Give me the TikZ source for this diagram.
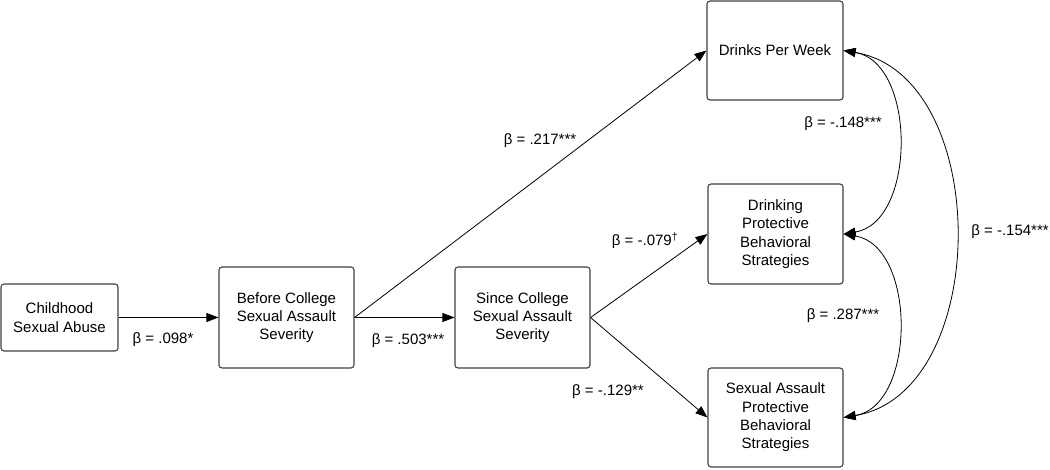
\documentclass[tikz,border=0pt]{standalone}
\usepackage{fontspec}
\setmainfont{Liberation Sans}
\usetikzlibrary{arrows.meta}
\begin{document}
\begin{tikzpicture}[x=1pt,y=-1pt,
  box/.style={draw=black!75, line width=1.1pt, rounded corners=3pt, align=center, inner sep=0pt,
    font=\fontsize{15}{18.3}\selectfont},
  lbl/.style={inner sep=0pt, font=\fontsize{15}{18}\selectfont},
  arr/.style={line width=0.8pt, -{Triangle[length=12pt,width=9pt]}},
  darr/.style={line width=0.8pt, {Triangle[length=12pt,width=9pt]}-{Triangle[length=12pt,width=9pt]}}]
\useasboundingbox (0,0) rectangle (1050,469);
\node[box, minimum width=117pt, minimum height=67pt] (csa) at (59.5,317.5) {Childhood\\Sexual Abuse};
\node[box, minimum width=135pt, minimum height=101pt] (bcs) at (286.5,317.5) {Before College\\Sexual Assault\\Severity};
\node[box, minimum width=135pt, minimum height=101pt] (scs) at (522.5,317.5) {Since College\\Sexual Assault\\Severity};
\node[box, minimum width=136pt, minimum height=99pt] (dpw) at (775,50.5) {Drinks Per Week};
\node[box, minimum width=135pt, minimum height=100pt] (dp) at (775.5,234) {Drinking\\Protective\\Behavioral\\Strategies};
\node[box, minimum width=135pt, minimum height=99pt] (sap) at (775.5,417.5) {Sexual Assault\\Protective\\Behavioral\\Strategies};

\draw[arr] (csa.east) -- (bcs.west);
\draw[arr] (bcs.east) -- (scs.west);
\draw[arr] (bcs.east) -- (dpw.west);
\draw[arr] (scs.east) -- (dp.west);
\draw[arr] (scs.east) -- (sap.west);

\draw[darr] (dpw.east) .. controls +(73,12) and +(73,-12) .. (dp.east);
\draw[darr] (dp.east) .. controls +(73,12) and +(73,-12) .. (sap.east);
\draw[darr] (dpw.east) .. controls +(149,25) and +(149,-25) .. (sap.east);

\node[lbl] (l1) at (163,340) {β = .098*};
\node[lbl] (l2) at (408,341) {β = .503***};
\node[lbl] (l3) at (540,141) {β = .217***};
\node[lbl] (l4) at (645,241) {β = -.079\textsuperscript{†}};
\node[lbl] (l5) at (608,392) {β = -.129**};
\node[lbl] (l6) at (843,124) {β = -.148***};
\node[lbl] (l7) at (843,316) {β = .287***};
\node[lbl] (l8) at (1010,232) {β = -.154***};
\end{tikzpicture}
\end{document}
